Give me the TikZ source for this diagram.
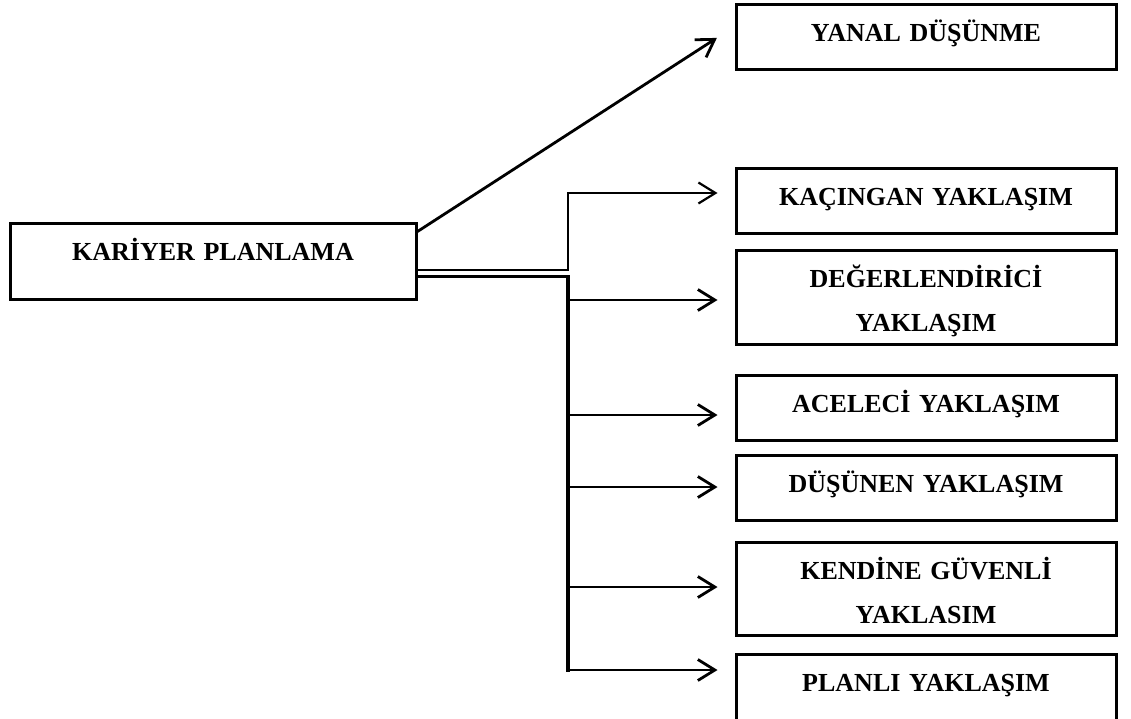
\documentclass[tikz,border=0pt]{standalone}
\usepackage{fontspec}
\setmainfont{Liberation Serif}
\usetikzlibrary{arrows.meta}

\tikzset{
kutu/.style={draw, line width=3pt, inner sep=0pt, text width=380pt, align=center, text height=37pt, font=\fontsize{26}{44}\selectfont\bfseries},
ok/.style={line width=2.8pt, -{Straight Barb[length=17pt,width=21pt]}, shorten >=17pt}
}

\newcommand{\kutu}[4]{
\node[kutu, text depth=#3] (#1) at (926,#2) {#4};
}

\begin{document}
\begin{tikzpicture}[x=1pt, y=-1pt]
\useasboundingbox (0,0) rectangle (1131,718);
\node[kutu, text width=406pt, text depth=39pt] (kariyer) at (213,261) {KARİYER PLANLAMA};

\kutu{yanal}{36.5}{28pt}{YANAL DÜŞÜNME}
\kutu{kacingan}{200.5}{28pt}{KAÇINGAN YAKLAŞIM}
\kutu{degerlendirici}{297}{57pt}{DEĞERLENDİRİCİ\\YAKLAŞIM}
\kutu{aceleci}{407.5}{28pt}{ACELECİ YAKLAŞIM}
\kutu{dusunen}{487.5}{28pt}{DÜŞÜNEN YAKLAŞIM}
\kutu{kendine}{588.5}{56pt}{KENDİNE GÜVENLİ\\YAKLASIM}
\kutu{planli}{687.5}{30pt}{PLANLI YAKLAŞIM}

\coordinate (kol) at (568,193);
\coordinate (alt) at (568,670);

\draw[ok, shorten >=21pt] ([yshift=-10pt]kariyer.north east) -- ([yshift=10pt]yanal.west);
\draw[ok, line width=2.2pt] ([yshift=-9pt]kariyer.east) -| (kol) -- (kol -| kacingan.west);
\draw[line width=3.8pt, line cap=rect] ([yshift=-15.5pt]kariyer.east) -| (alt);
\draw[ok] (alt) -- (alt -| planli.west);
\foreach \ad/\y in {degerlendirici/300, aceleci/415, dusunen/487, kendine/587}
  \draw[ok] (568,\y) -- (568,\y -| \ad.west);
% \draw[help lines] (0,0) grid[step=50] (1131,718);
\end{tikzpicture}
\end{document}
